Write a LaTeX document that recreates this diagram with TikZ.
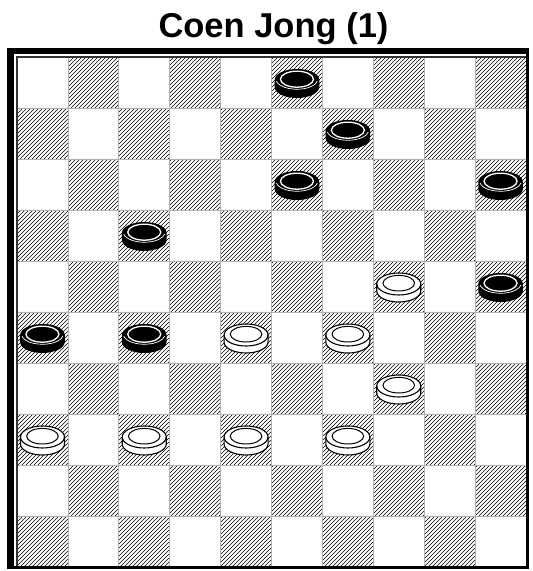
\documentclass[tikz,border=0pt]{standalone}
\usepackage{fontspec}
\setmainfont{Liberation Sans}
\begin{document}
\begin{tikzpicture}[x=1pt,y=1pt,
  hatchline/.style={draw=black,line width=0.6pt},
  gridline/.style={draw=black!30,line width=0.8pt},
  wp/.pic={
    \filldraw[fill=white,draw=black,line width=1.1pt] (-22,2.5) -- (-22,-4.5)
      arc[start angle=180,end angle=360,x radius=22,y radius=11] -- (22,2.5)
      arc[start angle=0,end angle=180,x radius=22,y radius=11] -- cycle;
    \draw[line width=1.1pt] (-22,2.5) arc[start angle=180,end angle=360,x radius=22,y radius=11];
    \draw[line width=1pt] (0,3.3) ellipse[x radius=15.8,y radius=7.8];
  },
  bp/.pic={
    \fill[black] (-22.3,2.5) -- (-22.3,-4.5)
      arc[start angle=180,end angle=360,x radius=22.3,y radius=11] -- (22.3,2.5)
      arc[start angle=0,end angle=180,x radius=22.3,y radius=11] -- cycle;
    \draw[white,line width=0.7pt] (-20.5,1.5) arc[start angle=190,end angle=350,x radius=20.8,y radius=10];
    \draw[white,line width=1.3pt] (0,3.3) ellipse[x radius=16.5,y radius=8];
  }]
\useasboundingbox (0,0) rectangle (533,571);
\fill[white] (0,0) rectangle (533,571);
% title
\node[anchor=base,font=\bfseries\fontsize{34.5}{40}\selectfont,inner sep=0pt] (title) at (273.5,533.7) {Coen Jong (1)};
% hatched dark squares
\begin{scope}
  \clip \foreach \r in {0,...,9} { \foreach \k in {0,...,4} {
      ({17+50.9*(mod(\r+1,2)+2*\k)},{514-51*\r}) rectangle ++(50.9,-51) } };
  \foreach \k in {-540,-536,...,520}
    \draw[hatchline] (0,\k) -- (560,{560+\k});
\end{scope}
\foreach \i in {1,...,9} {
  \draw[gridline] ({17+50.9*\i},514) -- ({17+50.9*\i},4);
  \draw[gridline] (17,{514-51*\i}) -- (526,{514-51*\i});
}
% inner border
\draw[black!80,line width=1.2pt] (17,4) -- (17,514) -- (526,514);
% outer frame
\fill[black] (7,2) rectangle (14,523);
\fill[black] (7,517) rectangle (529,523);
\fill[black] (526,2) rectangle (529,523);
\fill[black] (7,2) rectangle (529,5);
% black pieces
\foreach \c/\r in {5/0,6/1,5/2,9/2,2/3,9/4,0/5,2/5}
  \pic at ({17+50.9*(\c+0.5)},{514-51*(\r+0.5)}) {bp};
% white pieces
\foreach \c/\r in {7/4,4/5,6/5,7/6,0/7,2/7,4/7,6/7}
  \pic at ({17+50.9*(\c+0.5)},{514-51*(\r+0.5)}) {wp};
\end{tikzpicture}
\end{document}
